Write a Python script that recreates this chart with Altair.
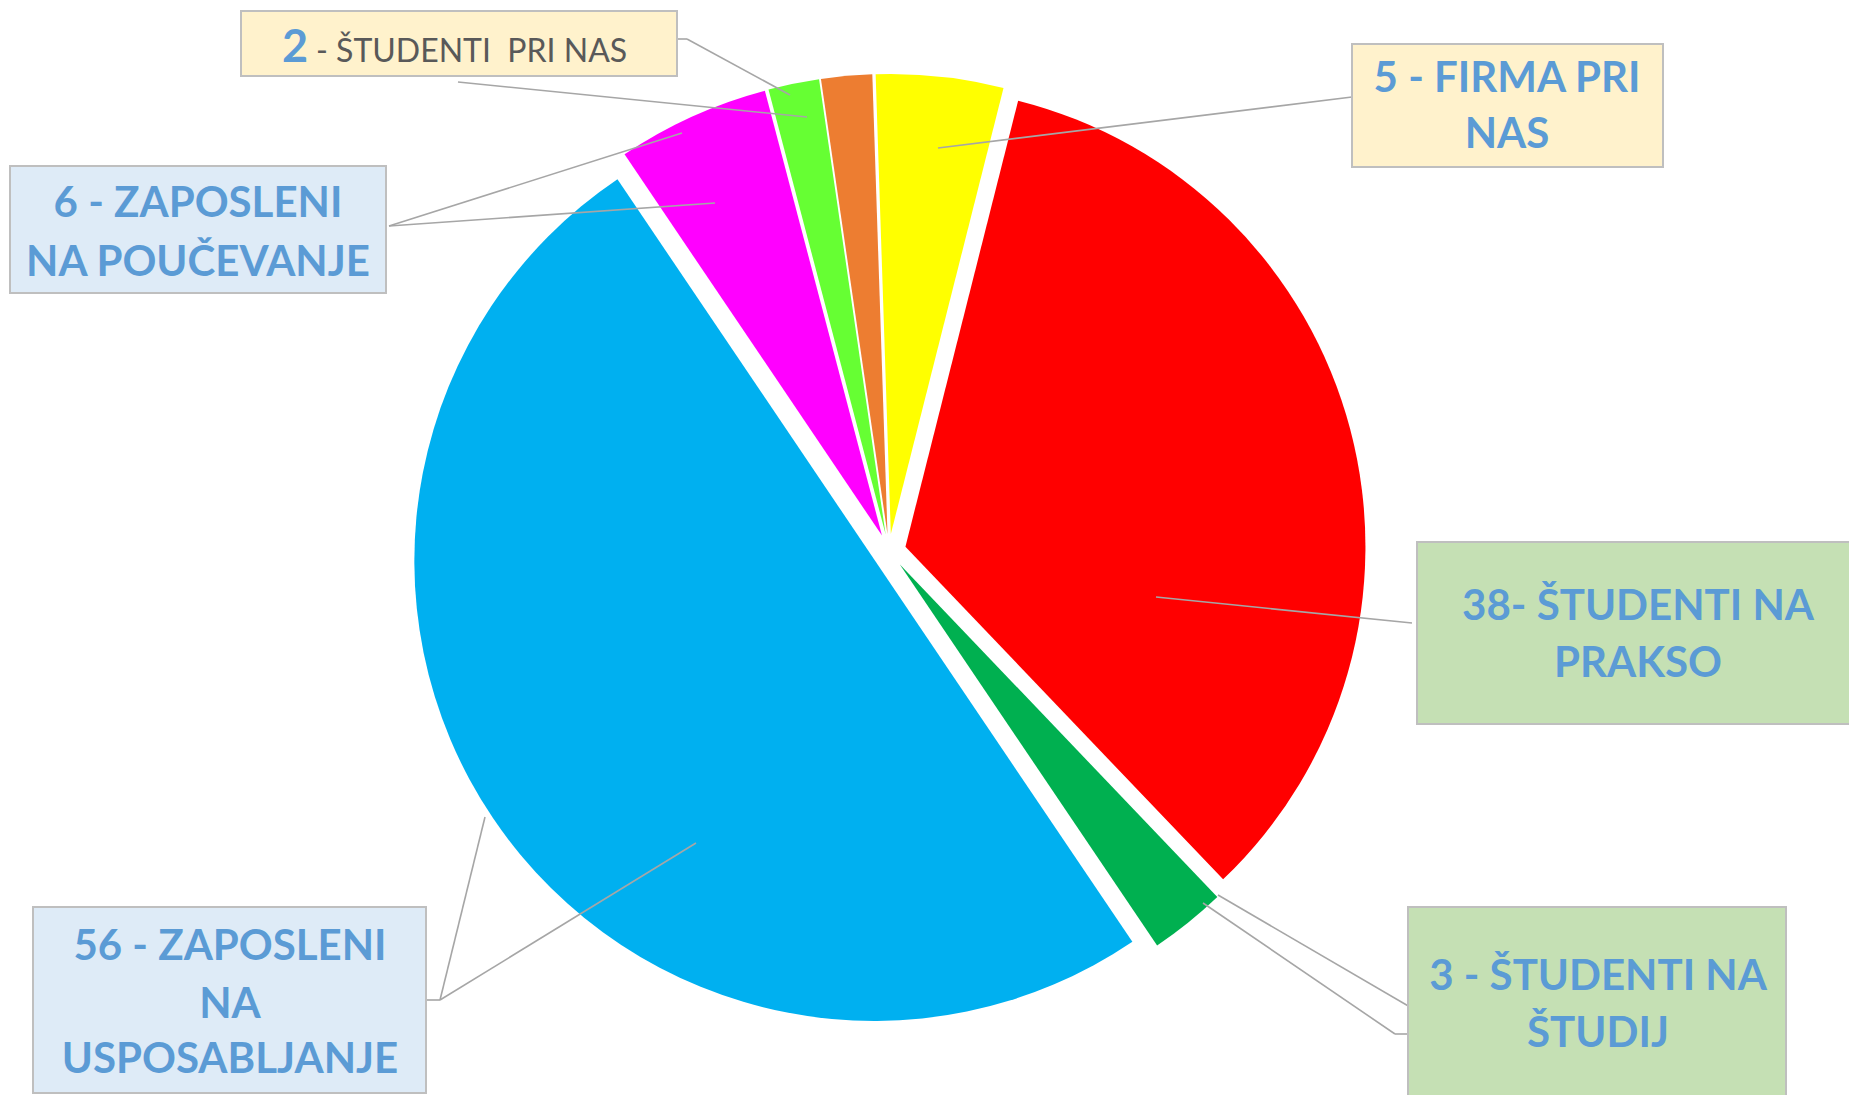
import math
import altair as alt
import pandas as pd

# ---- data (clockwise from the top) ----
categories = ["FIRMA PRI NAS", "ŠTUDENTI NA PRAKSO", "ŠTUDENTI NA ŠTUDIJ",
              "ZAPOSLENI NA USPOSABLJANJE", "ZAPOSLENI NA POUČEVANJE",
              "ŠTUDENTI PRI NAS", "DRUGO"]
values = [5, 38, 3, 56, 6, 2, 2]
colors = ["#FFFF00", "#FF0000", "#00B050", "#00B0F0", "#FF00FF", "#66FF33", "#ED7D31"]

# ---- pie layout ----
CX, CY = 889, 551          # pie centre (px)
RADIUS = 460               # outer radius (px)
EXPLODE = 17               # slice explosion (px)
START = 2 * math.pi - 0.033  # start angle of first slice (rad)

# ---- annotation layout (pixels) ----
box_x1 = [241, 1352, 10, 1417, 1408, 33]
box_x2 = [677, 1663, 386, 1860, 1786, 426]
box_y1 = [11, 44, 166, 542, 907, 907]
box_y2 = [76, 167, 293, 724, 1110, 1093]
box_fill = ["#FFF2CC", "#FFF2CC", "#DEEBF7", "#C5E0B4", "#C5E0B4", "#DEEBF7"]

seg_x1 = [677, 687, 458, 389, 389, 1352, 1412, 1218, 1203, 1395, 426, 440, 440]
seg_y1 = [39, 39, 82, 226, 226, 97, 623, 895, 903, 1034, 1000, 1000, 1000]
seg_x2 = [687, 790, 807, 682, 715, 938, 1156, 1422, 1395, 1408, 440, 485, 696]
seg_y2 = [39, 95, 117, 133, 203, 148, 597, 1014, 1034, 1034, 1000, 817, 843]

lab_text = ["5 - FIRMA PRI", "NAS",
            "38- ŠTUDENTI NA", "PRAKSO",
            "3 - ŠTUDENTI NA", "ŠTUDIJ",
            "56 - ZAPOSLENI", "NA", "USPOSABLJANJE",
            "6 - ZAPOSLENI", "NA POUČEVANJE",
            "2", "- ŠTUDENTI\u00a0\u00a0PRI NAS"]
lab_x = [1507, 1507, 1638, 1638, 1598, 1598, 230, 230, 230, 198, 198, 308, 316]
lab_y = [92, 148, 620, 677, 990, 1047, 960, 1018, 1073, 217, 276, 62, 62]
lab_size = [42, 42, 42, 42, 42, 42, 42, 42, 42, 42, 42, 45, 32]
lab_weight = ["bold"] * 12 + ["normal"]
lab_color = ["#5B9BD5"] * 12 + ["#595959"]
lab_align = ["center"] * 11 + ["right", "left"]

pie_df = pd.DataFrame({"category": categories, "value": values,
                       "order": list(range(len(values)))})
box_df = pd.DataFrame({"x": box_x1, "x2": box_x2, "y": box_y1, "y2": box_y2, "fill": box_fill})
seg_df = pd.DataFrame({"x": seg_x1, "y": seg_y1, "x2": seg_x2, "y2": seg_y2})
lab_df = pd.DataFrame({"t": lab_text, "x": lab_x, "y": lab_y, "size": lab_size,
                       "weight": lab_weight, "color": lab_color, "align": lab_align})

pie = alt.Chart(pie_df).transform_joinaggregate(
    total="sum(value)"
).transform_window(
    cum="sum(value)", sort=[alt.SortField("order")], frame=[None, 0]
).transform_calculate(
    mid=f"{START} + 2*PI*(datum.cum - datum.value/2)/datum.total"
).transform_calculate(
    px=f"{CX} + {EXPLODE}*sin(datum.mid)",
    py=f"{CY} - {EXPLODE}*cos(datum.mid)",
).mark_arc(outerRadius=RADIUS, strokeWidth=0).encode(
    theta=alt.Theta("value:Q", stack=True,
                    scale=alt.Scale(range=[START, START + 2 * math.pi])),
    color=alt.Color("category:N", scale=alt.Scale(domain=categories, range=colors), legend=None),
    order=alt.Order("order:Q"),
    x=alt.X("px:Q", scale=None),
    y=alt.Y("py:Q", scale=None),
)

segs = alt.Chart(seg_df).mark_rule(color="#A6A6A6", strokeWidth=1.6).encode(
    x=alt.X("x:Q", scale=None), y=alt.Y("y:Q", scale=None),
    x2="x2:Q", y2="y2:Q",
)

boxes = alt.Chart(box_df).mark_rect(stroke="#BFBFBF", strokeWidth=2).encode(
    x=alt.X("x:Q", scale=None), x2="x2:Q",
    y=alt.Y("y:Q", scale=None), y2="y2:Q",
    fill=alt.Fill("fill:N", scale=None),
)

layers = [pie, segs, boxes]
for i in range(len(lab_df)):
    row = lab_df.iloc[[i]]
    layers.append(
        alt.Chart(row).mark_text(
            font="Lato", fontSize=int(row["size"].iloc[0]),
            fontWeight=row["weight"].iloc[0], align=row["align"].iloc[0],
            baseline="alphabetic", color=row["color"].iloc[0],
        ).encode(
            x=alt.X("x:Q", scale=None), y=alt.Y("y:Q", scale=None), text="t:N"
        )
    )

chart = alt.layer(*layers).properties(
    width=1849, height=1095, padding=0,
    autosize=alt.AutoSizeParams(type="fit", contains="padding"),
).configure_view(strokeWidth=0)

chart.save("out.html", embed_options={"renderer": "svg", "actions": False})
